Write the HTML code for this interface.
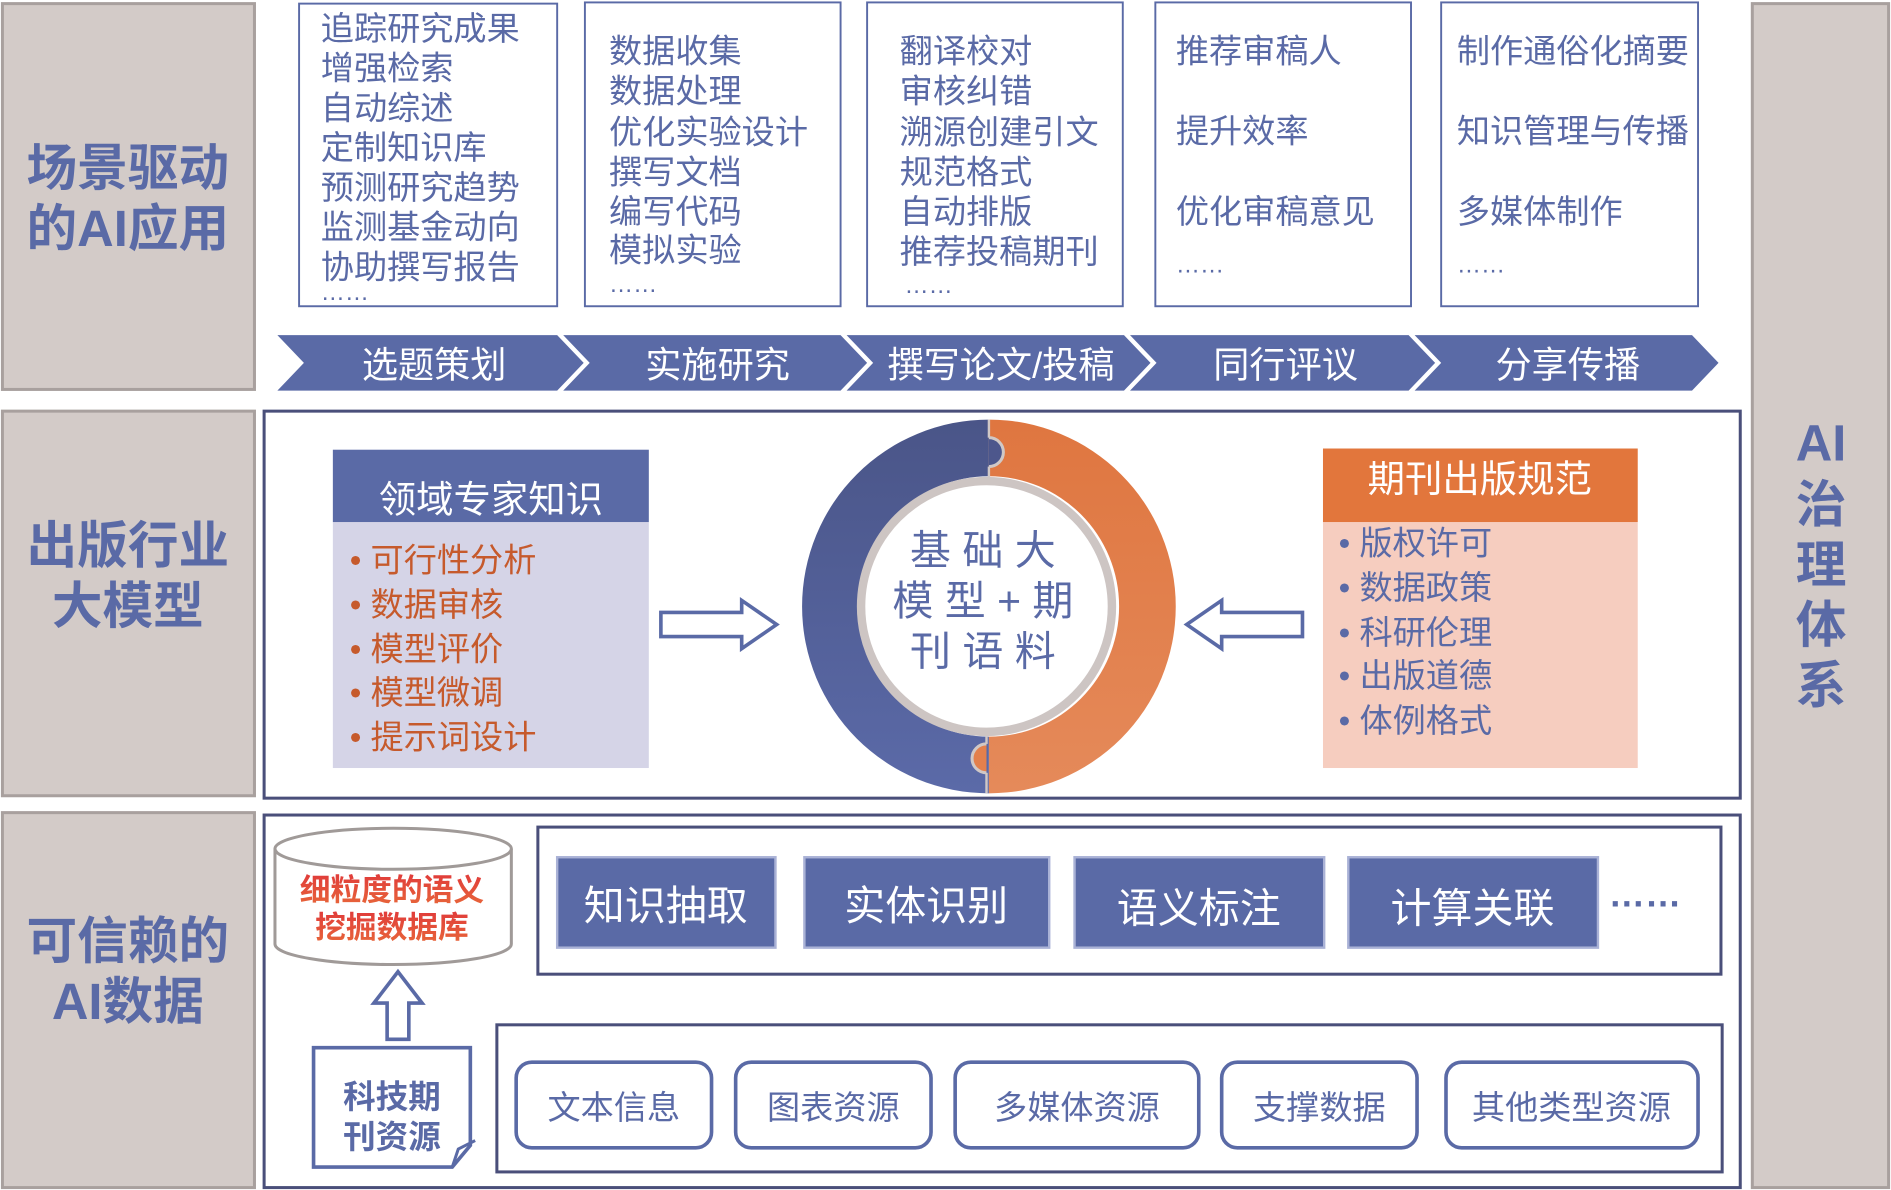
<!DOCTYPE html>
<html><head><meta charset="utf-8"><style>
html,body{margin:0;padding:0;background:#fff;}
svg{display:block;}
text{font-family:"Liberation Sans","Noto Sans CJK SC",sans-serif;}
</style></head><body>
<svg width="1891" height="1190" viewBox="0 0 1568 987" preserveAspectRatio="none" xmlns="http://www.w3.org/2000/svg">
<defs>
<linearGradient id="gb" x1="0" y1="0" x2="0" y2="1"><stop offset="0" stop-color="#4a5588"/><stop offset="1" stop-color="#5b6aa8"/></linearGradient>
<linearGradient id="go" x1="0" y1="0" x2="0" y2="1"><stop offset="0" stop-color="#df7640"/><stop offset="1" stop-color="#e58a5a"/></linearGradient>
<linearGradient id="gr" x1="0" y1="0" x2="0" y2="1"><stop offset="0" stop-color="#e03a3a"/><stop offset="1" stop-color="#e8683a"/></linearGradient>
</defs>
<g fill="#d3cbc8" stroke="#a8a09e" stroke-width="2.5">
<rect x="2" y="3" width="209" height="320"/>
<rect x="2" y="341" width="209" height="319"/>
<rect x="2" y="674" width="209" height="311"/>
<rect x="1453" y="3" width="113" height="982"/>
</g>
<g fill="#5a6aa6" font-weight="bold" font-size="42" text-anchor="middle">
<text x="106" y="154">场景驱动</text><text x="106" y="204">的AI应用</text>
<text x="106" y="467">出版行业</text><text x="106" y="517">大模型</text>
<text x="106" y="795">可信赖的</text><text x="106" y="845">AI数据</text>
<text x="1510" y="382">AI</text><text x="1510" y="433">治</text><text x="1510" y="483">理</text><text x="1510" y="533">体</text><text x="1510" y="583">系</text>
</g>
<g fill="none" stroke="#5a6aa6" stroke-width="1.6">
<rect x="248" y="3" width="214" height="251"/>
<rect x="485" y="2" width="212" height="252"/>
<rect x="719" y="2" width="212" height="252"/>
<rect x="958" y="2" width="212" height="252"/>
<rect x="1195" y="2" width="213" height="252"/>
</g>
<g fill="#5a6aa6" font-size="27.5">
<text x="266" y="33">追踪研究成果</text><text x="266" y="66">增强检索</text><text x="266" y="99">自动综述</text><text x="266" y="132">定制知识库</text><text x="266" y="165">预测研究趋势</text><text x="266" y="198">监测基金动向</text><text x="266" y="231">协助撰写报告</text><text x="266" y="249" font-size="20">……</text>
<text x="505" y="52">数据收集</text><text x="505" y="85">数据处理</text><text x="505" y="119">优化实验设计</text><text x="505" y="152">撰写文档</text><text x="505" y="185">编写代码</text><text x="505" y="217">模拟实验</text><text x="505" y="242" font-size="20">……</text>
<text x="746" y="52">翻译校对</text><text x="746" y="85">审核纠错</text><text x="746" y="119">溯源创建引文</text><text x="746" y="152">规范格式</text><text x="746" y="185">自动排版</text><text x="746" y="218">推荐投稿期刊</text><text x="750" y="243" font-size="20">……</text>
<text x="975" y="52">推荐审稿人</text><text x="975" y="118">提升效率</text><text x="975" y="185">优化审稿意见</text><text x="975" y="226" font-size="20">……</text>
<text x="1208" y="52">制作通俗化摘要</text><text x="1208" y="118">知识管理与传播</text><text x="1208" y="185">多媒体制作</text><text x="1208" y="226" font-size="20">……</text>
</g>
<g fill="#5a6aa6">
<polygon points="230,278 462,278 484,301 462,324 230,324 252,301"/>
<polygon points="467,278 697,278 719,301 697,324 467,324 489,301"/>
<polygon points="702,278 932,278 954,301 932,324 702,324 724,301"/>
<polygon points="937,278 1168,278 1190,301 1168,324 937,324 959,301"/>
<polygon points="1173,278 1403,278 1425,301 1403,324 1173,324 1195,301"/>
</g>
<g fill="#fff" font-size="30" text-anchor="middle">
<text x="360" y="313">选题策划</text><text x="595" y="313">实施研究</text><text x="830" y="313">撰写论文/投稿</text><text x="1066" y="313">同行评议</text><text x="1300" y="313">分享传播</text>
</g>
<rect x="219" y="341" width="1224" height="321" fill="none" stroke="#4a4f7a" stroke-width="2.5"/>
<rect x="276" y="433" width="262" height="204" fill="#d5d4e7"/>
<rect x="276" y="373" width="262" height="60" fill="#5a6aa6"/>
<text x="407" y="425" fill="#fff" font-size="31" text-anchor="middle">领域专家知识</text>
<g fill="#c65a2c" font-size="27.5">
<text x="290" y="474">• 可行性分析</text><text x="290" y="511">• 数据审核</text><text x="290" y="548">• 模型评价</text><text x="290" y="584">• 模型微调</text><text x="290" y="621">• 提示词设计</text>
</g>
<rect x="1097" y="433" width="261" height="204" fill="#f6cdbf"/>
<rect x="1097" y="372" width="261" height="61" fill="#e2763c"/>
<text x="1227" y="408" fill="#fff" font-size="31" text-anchor="middle">期刊出版规范</text>
<g fill="#5a6aa6" font-size="27.5">
<text x="1110" y="460">• 版权许可</text><text x="1110" y="497">• 数据政策</text><text x="1110" y="534">• 科研伦理</text><text x="1110" y="570">• 出版道德</text><text x="1110" y="607">• 体例格式</text>
</g>
<polygon points="548,508 615,508 615,498 644,518 615,538 615,528 548,528" fill="#fff" stroke="#5a6aa6" stroke-width="3"/>
<polygon points="1080,508 1013,508 1013,498 984,518 1013,538 1013,528 1080,528" fill="#fff" stroke="#5a6aa6" stroke-width="3"/>
<path d="M820,348 A155,155 0 0 0 820,658 L820,611 A108,108 0 0 1 820,395 Z" fill="url(#gb)"/>
<path d="M820,348 A155,155 0 0 1 820,658 L820,611 A108,108 0 0 0 820,395 Z" fill="url(#go)"/>
<path d="M820,363 A12,12 0 0 1 820,387 Z" fill="#4d578c"/>
<path d="M820,363 A12,12 0 0 1 820,387" fill="none" stroke="#d0c8c6" stroke-width="2.5"/>
<path d="M818,617 A12,12 0 0 0 818,641 Z" fill="#e3804c"/>
<path d="M818,617 A12,12 0 0 0 818,641" fill="none" stroke="#d0c8c6" stroke-width="2.5"/>
<line x1="820" y1="348" x2="820" y2="363" stroke="#d0c8c6" stroke-width="2"/>
<line x1="820" y1="387" x2="820" y2="396" stroke="#d0c8c6" stroke-width="2"/>
<line x1="818" y1="610" x2="818" y2="617" stroke="#d0c8c6" stroke-width="2"/>
<line x1="818" y1="641" x2="818" y2="658" stroke="#d0c8c6" stroke-width="2"/>
<circle cx="818" cy="503" r="104" fill="#fff" stroke="#cdc5c3" stroke-width="7"/>
<g fill="#5a6aa6" font-size="34" text-anchor="middle">
<text x="815" y="468">基 础 大</text><text x="815" y="510">模 型 + 期</text><text x="815" y="552">刊 语 料</text>
</g>
<rect x="219" y="676" width="1224" height="309" fill="none" stroke="#4a4f7a" stroke-width="2.5"/>
<path d="M228,704 L228,783 A98,17 0 0 0 424,783 L424,704" fill="#fff" stroke="#a09a98" stroke-width="2.5"/>
<ellipse cx="326" cy="704" rx="98" ry="17" fill="#fff" stroke="#a09a98" stroke-width="2.5"/>
<g fill="url(#gr)" font-size="25.5" font-weight="bold" text-anchor="middle">
<text x="325" y="747">细粒度的语义</text><text x="325" y="778">挖掘数据库</text>
</g>
<polygon points="330,806 350,832 339,832 339,862 321,862 321,832 310,832" fill="#fff" stroke="#5a6aa6" stroke-width="3"/>
<path d="M260,869 L390,869 L390,950 L375,968 L260,968 Z" fill="#fff" stroke="#5a6aa6" stroke-width="3"/>
<path d="M375,968 L380,953 L394,946" fill="none" stroke="#5a6aa6" stroke-width="2.5"/>
<g fill="#5a6aa6" font-size="27" font-weight="bold" text-anchor="middle">
<text x="325" y="919">科技期</text><text x="325" y="952">刊资源</text>
</g>
<rect x="446" y="686" width="981" height="122" fill="none" stroke="#4a4f7a" stroke-width="2.5"/>
<g fill="#5a6aa6" stroke="#aab2d6" stroke-width="2">
<rect x="462" y="711" width="181" height="75"/>
<rect x="667" y="711" width="203" height="75"/>
<rect x="891" y="711" width="207" height="75"/>
<rect x="1118" y="711" width="207" height="75"/>
</g>
<g fill="#fff" font-size="34" text-anchor="middle">
<text x="552" y="763">知识抽取</text><text x="768" y="763">实体识别</text><text x="994" y="765">语义标注</text><text x="1221" y="765">计算关联</text>
</g>
<text x="1334" y="752" fill="#5a6aa6" font-size="30" font-weight="bold">……</text>
<rect x="412" y="850" width="1016" height="122" fill="none" stroke="#4a4f7a" stroke-width="2.5"/>
<g fill="#fff" stroke="#5a6aa6" stroke-width="3">
<rect x="428" y="881" width="162" height="71" rx="13"/>
<rect x="610" y="881" width="162" height="71" rx="13"/>
<rect x="792" y="881" width="202" height="71" rx="13"/>
<rect x="1013" y="881" width="162" height="71" rx="13"/>
<rect x="1199" y="881" width="209" height="71" rx="13"/>
</g>
<g fill="#5a6aa6" font-size="27.5" text-anchor="middle">
<text x="509" y="928">文本信息</text><text x="691" y="928">图表资源</text><text x="893" y="928">多媒体资源</text><text x="1094" y="928">支撑数据</text><text x="1303" y="928">其他类型资源</text>
</g>
</svg>
</body></html>
